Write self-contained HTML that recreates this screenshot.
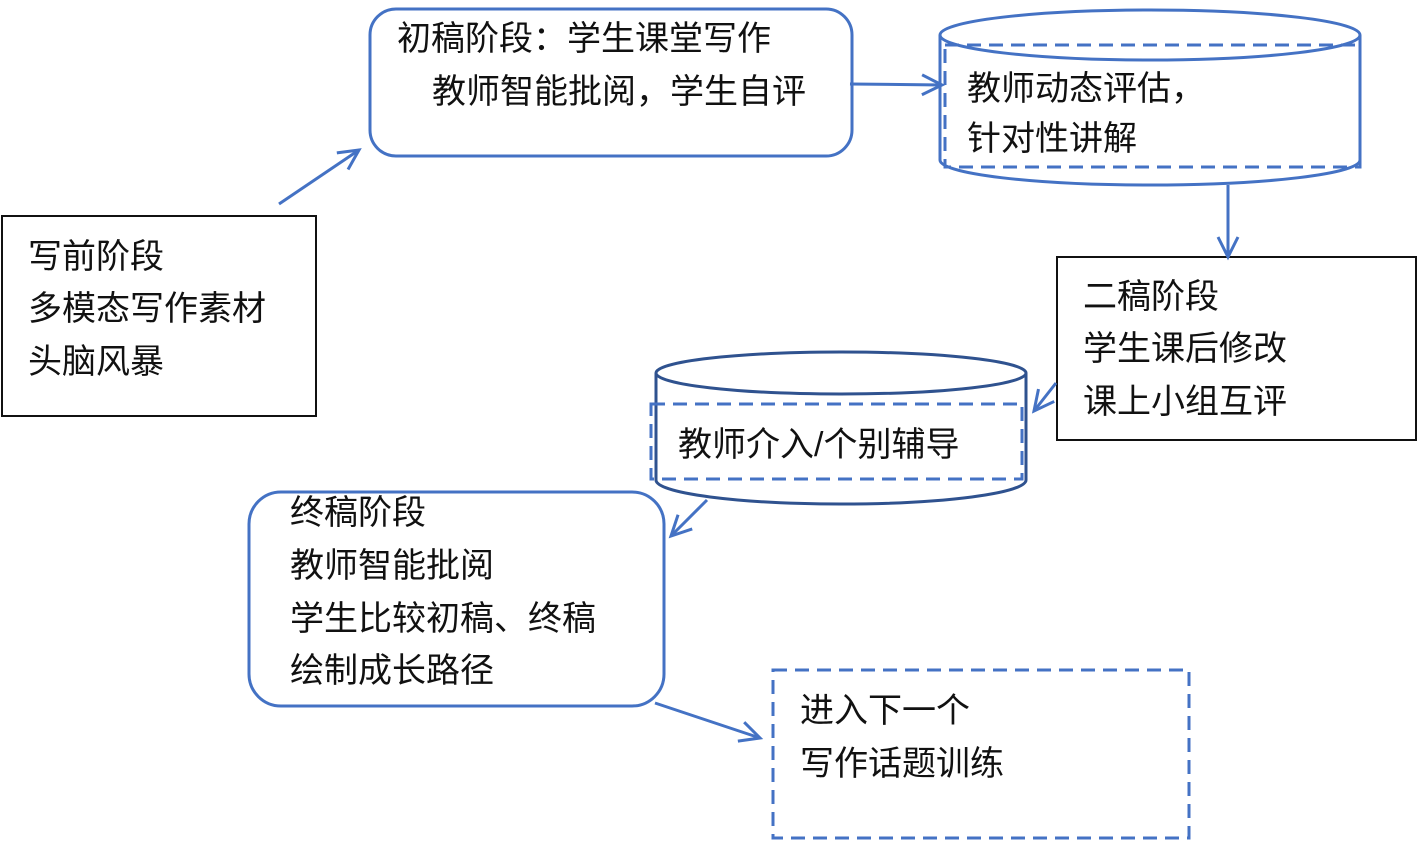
<!DOCTYPE html>
<html><head><meta charset="utf-8"><style>
html,body{margin:0;padding:0;background:#fff;}
svg{display:block;}
text{font-family:"Liberation Sans","Noto Sans CJK SC",sans-serif;font-size:34px;fill:#111;}
</style></head><body>
<svg width="1417" height="841" viewBox="0 0 1417 841" xmlns="http://www.w3.org/2000/svg">
<defs>
<marker id="a" markerWidth="30" markerHeight="30" refX="22" refY="12" orient="auto" markerUnits="userSpaceOnUse">
<path d="M2,2 L22,12 L2,22" fill="none" stroke="#4472C4" stroke-width="3"/>
</marker>
</defs>
<g fill="none" stroke="#4472C4" stroke-width="3">
<!-- left box -->
<rect x="2" y="216" width="314" height="200" stroke="#111" stroke-width="2"/>
<!-- box 1 -->
<rect x="370" y="9" width="482" height="147" rx="26"/>
<!-- cylinder 1 -->
<path d="M940,35 L940,160 A210,25 0 0 0 1360,160 L1360,35" fill="#fff"/>
<ellipse cx="1150" cy="35" rx="210" ry="25"/>
<rect x="945" y="45" width="415" height="122" stroke-dasharray="14,8"/>
<!-- rect 2 -->
<rect x="1057" y="257" width="359" height="183" stroke="#111" stroke-width="2"/>
<!-- cylinder 2 -->
<path d="M656,373 L656,480 A185,24 0 0 0 1026,480 L1026,373" stroke="#2F528F"/>
<ellipse cx="841" cy="373" rx="185" ry="21" stroke="#2F528F"/>
<rect x="651" y="404" width="371" height="75" stroke-dasharray="14,8"/>
<!-- final -->
<rect x="249" y="492" width="415" height="214" rx="32"/>
<!-- dashed -->
<rect x="773" y="670" width="416" height="168" stroke-dasharray="14,8"/>
<!-- arrows -->
<line x1="279" y1="204" x2="359" y2="150" marker-end="url(#a)"/>
<line x1="850" y1="84" x2="942" y2="85" marker-end="url(#a)"/>
<line x1="1228" y1="185" x2="1228" y2="257" marker-end="url(#a)"/>
<line x1="1056" y1="383" x2="1034" y2="411" marker-end="url(#a)"/>
<line x1="707" y1="500" x2="671" y2="536" marker-end="url(#a)"/>
<line x1="655" y1="703" x2="760" y2="738" marker-end="url(#a)"/>
</g>
<text x="397" y="50">初稿阶段：学生课堂写作</text>
<text x="432" y="103">教师智能批阅，学生自评</text>
<text x="967" y="100">教师动态评估，</text>
<text x="967" y="150">针对性讲解</text>
<text x="28" y="268">写前阶段</text>
<text x="28" y="320">多模态写作素材</text>
<text x="28" y="373">头脑风暴</text>
<text x="1083" y="308">二稿阶段</text>
<text x="1083" y="360">学生课后修改</text>
<text x="1083" y="413">课上小组互评</text>
<text x="678" y="456">教师介入/个别辅导</text>
<text x="290" y="524">终稿阶段</text>
<text x="290" y="577">教师智能批阅</text>
<text x="290" y="630">学生比较初稿、终稿</text>
<text x="290" y="682">绘制成长路径</text>
<text x="800" y="722">进入下一个</text>
<text x="800" y="775">写作话题训练</text>
</svg>
</body></html>
